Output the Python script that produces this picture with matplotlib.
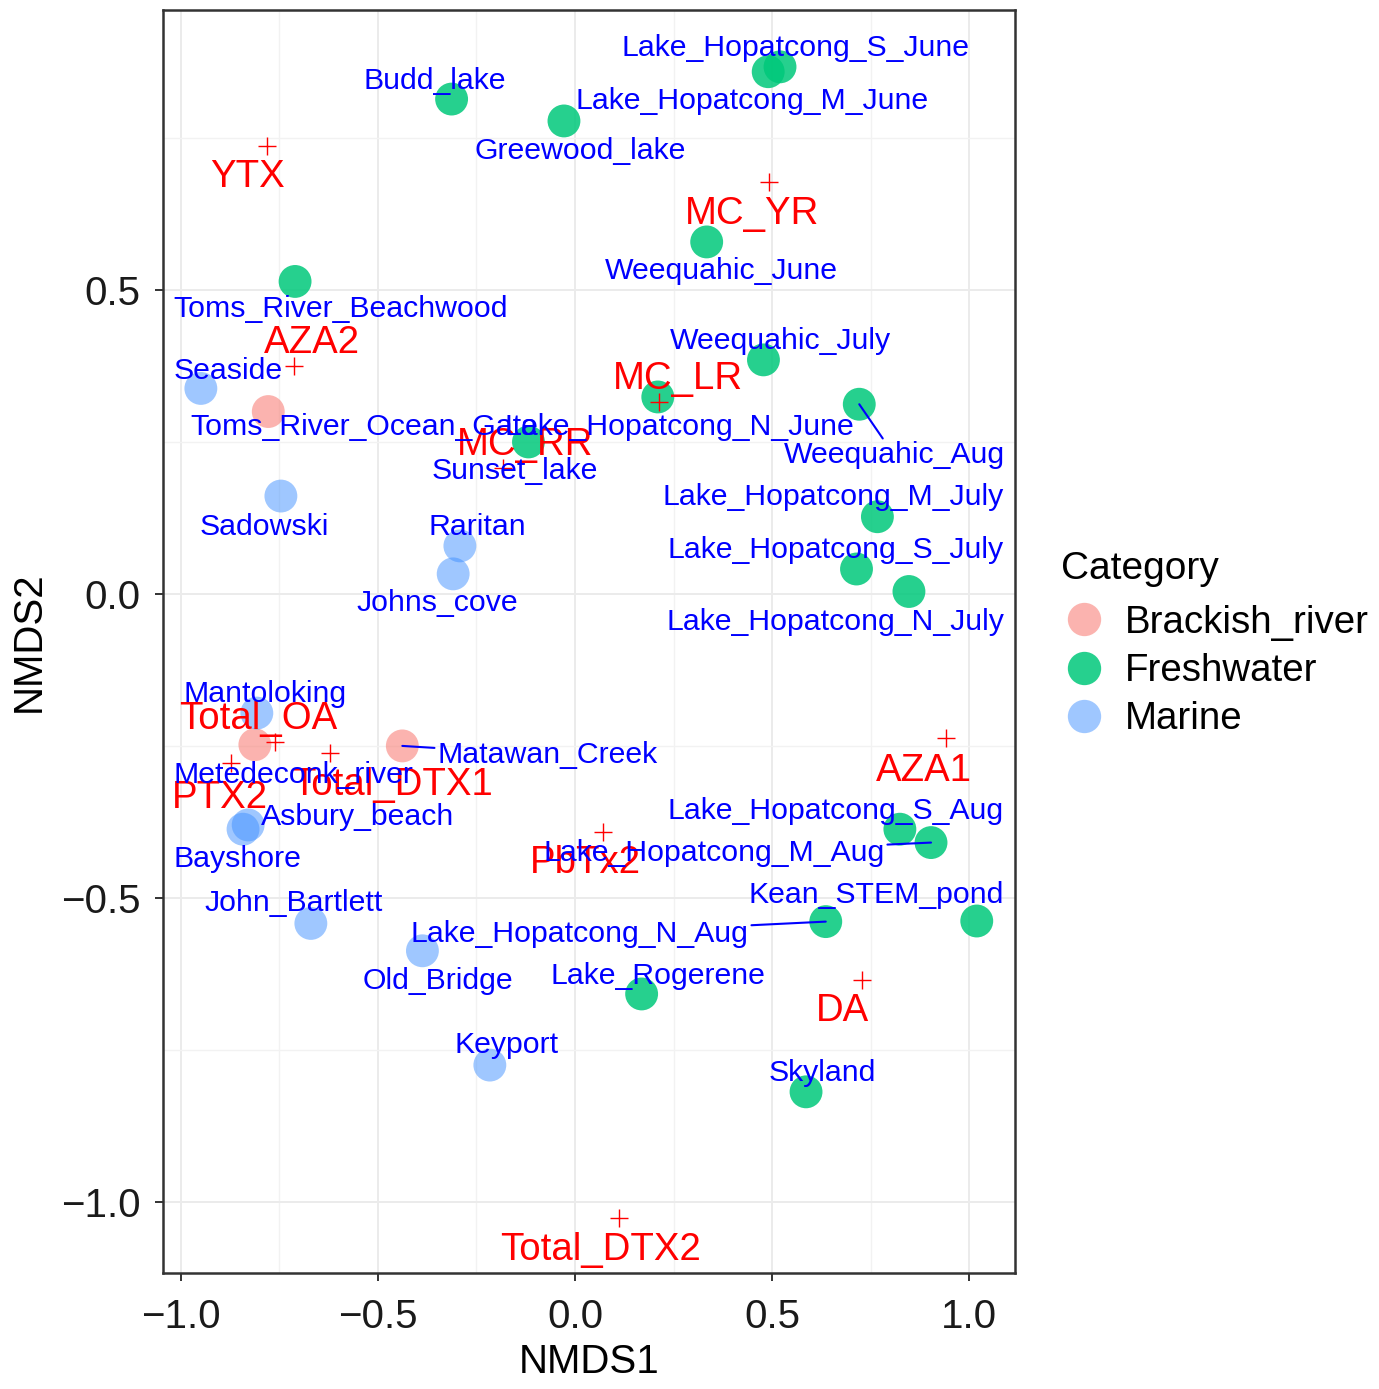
#!/usr/bin/env python3
"""NMDS ordination of sampling sites with toxin centroids (ggplot-like look)."""

import matplotlib

matplotlib.use("Agg")
import matplotlib.pyplot as plt
from matplotlib.lines import Line2D
from matplotlib.ticker import FixedLocator, FuncFormatter

plt.rcParams["font.family"] = ["Liberation Sans", "DejaVu Sans"]

# --- site scores -----------------------------------------------------------
site_names = [
    "Budd_lake", "Greewood_lake", "Lake_Hopatcong_S_June", "Lake_Hopatcong_M_June",
    "Weequahic_June", "Toms_River_Beachwood", "Weequahic_July", "Lake_Hopatcong_N_June",
    "Weequahic_Aug", "Sunset_lake", "Lake_Hopatcong_M_July", "Lake_Hopatcong_S_July",
    "Lake_Hopatcong_N_July", "Lake_Hopatcong_S_Aug", "Lake_Hopatcong_M_Aug",
    "Lake_Hopatcong_N_Aug", "Kean_STEM_pond", "Lake_Rogerene", "Skyland",
    "Toms_River_Ocean_Gate", "Metedeconk_river", "Matawan_Creek",
    "Seaside", "Sadowski", "Raritan", "Johns_cove", "Mantoloking", "Asbury_beach",
    "Bayshore", "John_Bartlett", "Old_Bridge", "Keyport",
]
site_category = ["Freshwater"] * 19 + ["Brackish_river"] * 3 + ["Marine"] * 10
site_x = [
    -0.313, -0.028, 0.520, 0.490, 0.334, -0.710, 0.478, 0.210, 0.721, -0.118,
    0.767, 0.714, 0.847, 0.824, 0.903, 0.636, 1.019, 0.169, 0.586,
    -0.778, -0.812, -0.438,
    -0.949, -0.746, -0.292, -0.309, -0.807, -0.829, -0.842, -0.670, -0.387, -0.216,
]
site_y = [
    0.814, 0.778, 0.867, 0.859, 0.579, 0.514, 0.385, 0.324, 0.312, 0.250,
    0.127, 0.041, 0.004, -0.387, -0.409, -0.539, -0.538, -0.658, -0.819,
    0.300, -0.248, -0.250,
    0.338, 0.161, 0.079, 0.033, -0.196, -0.380, -0.387, -0.542, -0.587, -0.775,
]

# --- toxin centroids ---------------------------------------------------------
toxin_names = ["YTX", "MC_YR", "AZA2", "MC_LR", "MC_RR", "Total_OA", "Total_DTX1",
               "PTX2", "AZA1", "PbTx2", "DA", "Total_DTX2"]
toxin_x = [-0.782, 0.493, -0.713, 0.214, -0.182, -0.761, -0.621, -0.872, 0.940,
           0.072, 0.727, 0.112]
toxin_y = [0.736, 0.678, 0.375, 0.316, 0.207, -0.243, -0.261, -0.278, -0.237,
           -0.392, -0.635, -1.026]

categories = ["Brackish_river", "Freshwater", "Marine"]

# --- styling / repel layout (label offsets in pixels from the point) ---------
cat_colors = {
    "Brackish_river": (248 / 255, 118 / 255, 109 / 255, 0.55),
    "Freshwater": (0 / 255, 200 / 255, 122 / 255, 0.85),
    "Marine": (65 / 255, 145 / 255, 255 / 255, 0.5),
}
site_offset = {
    "Lake_Hopatcong_S_June": (15, 22), "Budd_lake": (-17, 21),
    "Lake_Hopatcong_M_June": (-16, -26), "Greewood_lake": (16, -27),
    "Weequahic_June": (15, -26), "Toms_River_Beachwood": (46, -25),
    "Weequahic_July": (17, 22), "Seaside": (27, 20),
    "Toms_River_Ocean_Gate": (96, -12), "Lake_Hopatcong_N_June": (22, -27),
    "Weequahic_Aug": (35, -48), "Sunset_lake": (-14, -26),
    "Lake_Hopatcong_M_July": (-44, 23), "Sadowski": (-17, -28),
    "Raritan": (17, 22), "Lake_Hopatcong_S_July": (-21, 22),
    "Johns_cove": (-16, -26), "Lake_Hopatcong_N_July": (-74, -28),
    "Mantoloking": (8, 22), "Matawan_Creek": (145, -6),
    "Metedeconk_river": (39, -27), "Asbury_beach": (109, 11),
    "Lake_Hopatcong_S_Aug": (-64, 21), "Bayshore": (-6, -27),
    "Lake_Hopatcong_M_Aug": (-217, -7), "Kean_STEM_pond": (-101, 29),
    "John_Bartlett": (-17, 23), "Lake_Hopatcong_N_Aug": (-246, -9),
    "Old_Bridge": (16, -27), "Lake_Rogerene": (16, 21),
    "Keyport": (17, 23), "Skyland": (16, 22),
}
with_segment = {"Weequahic_Aug", "Matawan_Creek", "Lake_Hopatcong_M_Aug",
                "Lake_Hopatcong_N_Aug"}
toxin_offset = {
    "YTX": (-19, -28), "MC_YR": (-17, -29), "AZA2": (18, 26), "MC_LR": (19, 26),
    "MC_RR": (22, 26), "Total_OA": (-17, 26), "Total_DTX1": (62, -29),
    "PTX2": (-11, -32), "AZA1": (-22, -30), "PbTx2": (-18, -28), "DA": (-19, -28),
    "Total_DTX2": (-19, -29),
}
TEXT_NUDGE = -3  # matplotlib centres on the full bbox, R on the glyphs

W, H = 1379, 1389
fig = plt.figure(figsize=(W / 100, H / 100), dpi=100)
ax = fig.add_axes([163 / W, 1 - 1273 / H, (1015 - 163) / W, (1273 - 10) / H])

# points
for cat in categories:
    xs = [x for x, c in zip(site_x, site_category) if c == cat]
    ys = [y for y, c in zip(site_y, site_category) if c == cat]
    ax.scatter(xs, ys, s=560, color=cat_colors[cat], edgecolors="none", zorder=2)

# toxin crosses and labels
ax.scatter(toxin_x, toxin_y, marker="+", s=150, color="red", linewidths=1.0, zorder=3)
for name, x, y in zip(toxin_names, toxin_x, toxin_y):
    dx, dy = toxin_offset[name]
    ax.annotate(name, (x, y), xytext=(dx, dy + TEXT_NUDGE), textcoords="offset pixels",
                ha="center", va="center", color="red", fontsize=27.6, zorder=4)

# site labels
for name, x, y in zip(site_names, site_x, site_y):
    dx, dy = site_offset[name]
    arrow = None
    if name in with_segment:
        arrow = dict(arrowstyle="-", color="blue", lw=1.5, shrinkA=0, shrinkB=0)
    ax.annotate(name, (x, y), xytext=(dx, dy + TEXT_NUDGE), textcoords="offset pixels",
                ha="center", va="center", color="blue", fontsize=21.8, zorder=5,
                arrowprops=arrow)

ax.set_xlim(-1.045, 1.116)
ax.set_ylim(-1.117, 0.9605)
ax.xaxis.set_major_locator(FixedLocator([-1.0, -0.5, 0.0, 0.5, 1.0]))
ax.xaxis.set_minor_locator(FixedLocator([-0.75, -0.25, 0.25, 0.75]))
ax.yaxis.set_major_locator(FixedLocator([-1.0, -0.5, 0.0, 0.5]))
ax.yaxis.set_minor_locator(FixedLocator([-0.75, -0.25, 0.25, 0.75]))
fmt = FuncFormatter(lambda v, _: f"{v:.1f}".replace("-", "\u2212"))
ax.xaxis.set_major_formatter(fmt)
ax.yaxis.set_major_formatter(fmt)
ax.grid(True, which="major", color="#ebebeb", linewidth=1.4, zorder=0)
ax.grid(True, which="minor", color="#f2f2f2", linewidth=1.0, zorder=0)
ax.set_axisbelow(True)
ax.tick_params(which="major", length=6, width=1.4, color="#333333",
               labelsize=29, labelcolor="#1a1a1a")
ax.tick_params(axis="x", which="major", pad=12)
ax.tick_params(axis="y", which="major", pad=10)
ax.tick_params(which="minor", length=0)
for sp in ax.spines.values():
    sp.set_color("#333333")
    sp.set_linewidth(1.8)

ax.set_xlabel("NMDS1", fontsize=29, labelpad=5)
ax.set_ylabel("NMDS2", fontsize=29, labelpad=10)

handles = [Line2D([], [], linestyle="none", marker="o", markersize=24,
                  markerfacecolor=cat_colors[c], markeredgecolor="none") for c in categories]
leg = fig.legend(handles, categories, title="Category", loc="upper left",
                 bbox_to_anchor=(1061 / W, 1 - 551 / H), frameon=False,
                 fontsize=27.7, title_fontsize=28, handlelength=1.2,
                 handletextpad=0.45, labelspacing=0.32, borderpad=0, borderaxespad=0)
leg._legend_box.align = "left"
leg._legend_box.sep = 12.8

fig.savefig("out.png", dpi=100)
